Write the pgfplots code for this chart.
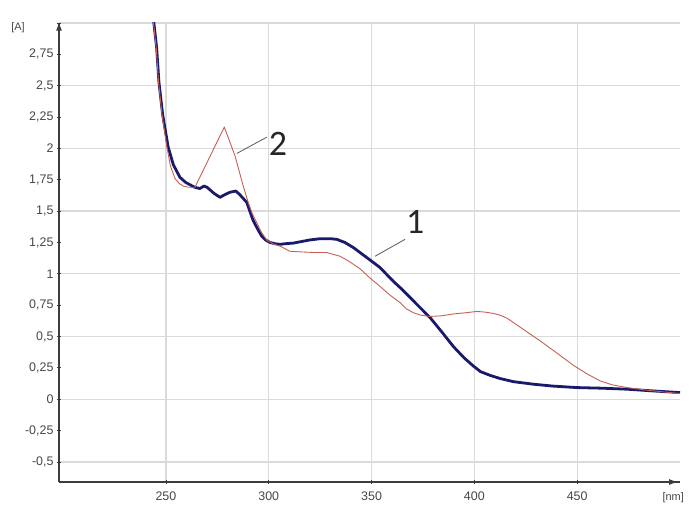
\documentclass[border=0pt]{standalone}
\usepackage{pgfplots}
\pgfplotsset{compat=1.18}
\usepackage{fontspec}
\setmainfont{Liberation Sans}
\newfontfamily\annfont{Carlito}
\usetikzlibrary{arrows.meta}
\definecolor{navyc}{RGB}{26,26,108}
\definecolor{redc}{RGB}{198,96,82}
\definecolor{gridc}{RGB}{218,218,218}
\definecolor{axc}{RGB}{60,60,60}
\definecolor{labc}{RGB}{70,70,70}
\definecolor{leadc}{RGB}{90,90,90}

\pgfplotstableread{
x y
243.8 3.05
245.5 2.80
246.6 2.53
248.4 2.27
251.1 2.01
253.6 1.87
256.8 1.77
259.5 1.73
261.7 1.71
264.0 1.69
266.5 1.68
268.5 1.70
270.0 1.69
271.4 1.67
273.5 1.64
276.3 1.61
278.5 1.63
281.1 1.65
284.0 1.66
286.0 1.63
289.3 1.57
292.3 1.43
294.5 1.36
296.6 1.30
298.5 1.27
300.6 1.25
303.0 1.24
305.5 1.235
308.0 1.24
312.0 1.245
315.2 1.255
320.0 1.27
324.9 1.28
330.0 1.28
333.1 1.275
337.0 1.25
341.1 1.21
346.0 1.15
350.9 1.09
354.1 1.05
360.6 0.94
363.9 0.89
370.0 0.79
378.5 0.65
384.0 0.54
389.8 0.42
395.0 0.33
399.5 0.265
403.0 0.22
407.7 0.19
412.5 0.165
419.0 0.14
428.6 0.12
438.0 0.105
449.8 0.093
462.0 0.088
474.2 0.08
488.0 0.065
500.0 0.053
}\blueA

\pgfplotstableread{
x y
243.6 3.05
245.3 2.80
246.4 2.53
248.1 2.27
250.5 2.01
252.2 1.86
254.4 1.76
256.5 1.72
258.4 1.70
261.0 1.69
264.1 1.69
278.4 2.17
283.6 1.94
287.6 1.70
290.0 1.57
292.0 1.48
294.1 1.41
296.5 1.33
299.0 1.27
302.0 1.24
305.5 1.22
310.3 1.18
315.2 1.175
322.0 1.17
328.2 1.17
334.7 1.14
339.0 1.10
344.4 1.04
349.0 0.97
354.1 0.90
359.0 0.83
363.9 0.77
367.0 0.72
370.3 0.69
374.0 0.67
378.5 0.66
384.0 0.665
389.8 0.68
396.0 0.69
401.2 0.70
405.0 0.695
409.0 0.685
412.5 0.67
416.0 0.645
420.0 0.60
424.0 0.555
428.0 0.51
432.0 0.465
440.0 0.37
448.2 0.27
455.0 0.20
461.2 0.146
467.0 0.115
474.2 0.093
485.0 0.07
500.0 0.045
}\redB

\begin{document}
\begin{tikzpicture}
\begin{axis}[
  scale only axis, width=621bp, height=459bp,
  xmin=198, xmax=500, ymin=-0.66, ymax=3.0,
  axis x line*=bottom, axis y line*=left,
  axis line style={axc, line width=1.3bp},
  xtick={250,300,350,400,450},
  xticklabels={250,300,350,400,450},
  ytick={-0.5,0,0.5,1,1.5,2,2.5,3},
  yticklabels={{-0,5},{0},{0,5},{1},{1,5},{2},{2,5},{}},
  extra y ticks={-0.25,0.25,0.75,1.25,1.75,2.25,2.75},
  extra y tick labels={{-0,25},{0,25},{0,75},{1,25},{1,75},{2,25},{2,75}},
  extra y tick style={grid=none},
  grid=major,
  major grid style={gridc, line width=1.3bp},
  tick style={axc, line width=0.8bp},
  major tick length=4bp,
  tick align=center,
  ticklabel style={font=\fontsize{12.5}{14}\selectfont, text=labc},
  xticklabel style={yshift=-4bp},
  clip mode=individual,
]
\addplot[navyc, line width=2.8bp, line join=round] table[x=x,y=y] {\blueA};
\addplot[redc, line width=0.9bp, line join=round] table[x=x,y=y] {\redB};

\draw[leadc, line width=0.8bp] (axis cs:284.5,1.96) -- (axis cs:299.1,2.09);
\node[font=\annfont\fontsize{36}{40}\selectfont, text=black!85] at (axis cs:304.5,2.04) {2};
\draw[leadc, line width=0.8bp] (axis cs:351.7,1.14) -- (axis cs:366.3,1.275);
\node[font=\annfont\fontsize{36}{40}\selectfont, text=black!85] at (axis cs:371.2,1.41) {1};

\draw[axc, line width=1.3bp, -{Latex[length=9bp,width=6bp]}] (rel axis cs:0.95,0) -- (rel axis cs:0.997,0);
\draw[axc, line width=1.3bp, -{Latex[length=9bp,width=6bp]}] (rel axis cs:0,0.95) -- (rel axis cs:0,1.003);

\node[font=\fontsize{11}{12}\selectfont, text=labc] at (rel axis cs:-0.066,0.99) {[A]};
\node[font=\fontsize{11}{12}\selectfont, text=labc] at (rel axis cs:0.989,-0.035) {[nm]};
\end{axis}
\pgfresetboundingbox
\path[use as bounding box] (current axis.south west) ++(-59bp,-24bp) rectangle ++(699bp,506bp);
\end{tikzpicture}
\end{document}
